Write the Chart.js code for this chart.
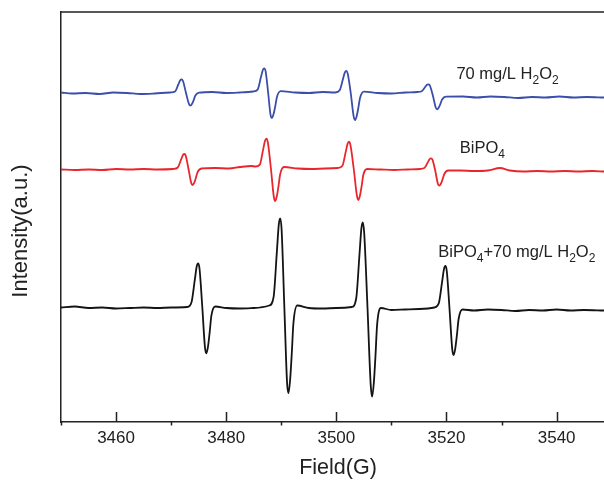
<!DOCTYPE html>
<html>
<head>
<meta charset="utf-8">
<script src="https://cdn.jsdelivr.net/npm/chart.js@4.4.1/dist/chart.umd.min.js"></script>
<style>
  body { margin: 0; background: #fff; }
  #wrap { width: 604px; height: 484px; }
</style>
</head>
<body>
<div id="wrap"><canvas id="eprChart" width="604" height="484"></canvas></div>
<script>
// Trace names (digit after a capital letter is drawn as subscript)
const traceNames = ['70 mg/L H2O2', 'BiPO4', 'BiPO4+70 mg/L H2O2'];
const xTitle = 'Field(G)';
const yTitle = 'Intensity(a.u.)';

// 70 mg/L H2O2 (blue)
const blueField = [3450, 3452, 3454.5, 3457, 3459.5, 3462, 3464.5, 3467, 3469.9,
  3470.7, 3471.3, 3471.65, 3471.9, 3472.15, 3472.7, 3473.25, 3473.5, 3473.8, 3474.1, 3474.4, 3475.1,
  3477.5, 3480, 3482.5, 3484.9,
  3485.7, 3486.3, 3486.65, 3486.9, 3487.15, 3487.6, 3488.05, 3488.3, 3488.6, 3488.9, 3489.2, 3489.9,
  3492.5, 3495, 3497.5, 3499.8,
  3500.6, 3501.2, 3501.55, 3501.8, 3502.05, 3502.6, 3503.15, 3503.4, 3503.7, 3504.0, 3504.3, 3505.0,
  3507.5, 3510, 3512.5, 3514.7,
  3515.5, 3516.1, 3516.45, 3516.7, 3516.95, 3517.5, 3518.05, 3518.3, 3518.6, 3518.9, 3519.2, 3519.9,
  3523, 3525.5, 3528, 3530.5, 3533, 3535.5, 3538, 3540.5, 3543, 3545.5, 3548.6];
const blueIntensity = [329.5, 328.5, 329, 328, 329.5, 329, 328, 328.5, 329.5,
  330.4, 337.5, 341.7, 342.7, 341, 329, 317.8, 316.3, 318.2, 322, 326.5, 329.3,
  330, 329, 329.5, 330.5,
  332.4, 344.7, 352, 353.7, 350.9, 330, 307.1, 304, 307.9, 315.7, 324.8, 330.8,
  329.5, 329, 330, 329.5,
  331.7, 343, 349.7, 351.2, 348.6, 329.5, 305.3, 302, 306.1, 314.4, 324, 330.3,
  329, 328.5, 329.5, 330,
  330.8, 334.8, 337.2, 337.7, 336.8, 327, 314.5, 312.7, 314.5, 318.2, 322.5, 325.4,
  325.5, 324.5, 325.5, 325, 324, 325, 324.5, 325.5, 324.5, 325, 324.5];

// BiPO4 (red)
const redField = [3450, 3452.5, 3455, 3457.5, 3460, 3462.5, 3465, 3467.5, 3470.4,
  3471.2, 3471.8, 3472.15, 3472.4, 3472.65, 3473.15, 3473.65, 3473.9, 3474.2, 3474.5, 3474.8, 3475.5,
  3478, 3480.5, 3482.5, 3484.6,
  3485.3, 3486.1, 3486.7, 3487.05, 3487.3, 3487.55, 3488.1, 3488.65, 3488.9, 3489.2, 3489.5, 3489.8, 3490.5,
  3493, 3495.5, 3498, 3500.3,
  3501.1, 3501.7, 3502.05, 3502.3, 3502.55, 3503.15, 3503.75, 3504.0, 3504.3, 3504.6, 3504.9, 3505.6,
  3508, 3510.5, 3513, 3515.2,
  3516.0, 3516.6, 3516.95, 3517.2, 3517.45, 3517.95, 3518.45, 3518.7, 3519.0, 3519.3, 3519.6, 3520.3,
  3522.5, 3525, 3527.5, 3529.7, 3531.5, 3534, 3536.5, 3539, 3541.5, 3544, 3546.5, 3548.6];
const redIntensity = [252.5, 252, 252.5, 252, 253, 252.5, 253, 252.5, 253,
  254.5, 262.3, 267, 268, 266.2, 253, 238.9, 237, 239.4, 244.2, 249.8, 253.5,
  254, 253.5, 255, 256,
  255.5, 257.4, 272.4, 281.3, 283.3, 279.8, 254.5, 225, 221, 226, 236.1, 247.8, 255,
  253.5, 253, 253.5, 254,
  256.2, 270.1, 278.4, 280.3, 277.1, 253.5, 225.8, 222, 226.7, 236.2, 247.2, 253,
  252.5, 252, 252.5, 253,
  254.1, 259.6, 263, 263.7, 262.4, 251.5, 238, 236.3, 238.5, 242.9, 248, 251.5,
  251.5, 251, 251.5, 254, 251.5, 250.5, 251, 250.5, 251, 250.5, 251, 250.5];

// BiPO4 + 70 mg/L H2O2 (black)
const blackField = [3450, 3452.5, 3455, 3457.5, 3460, 3462.5, 3465, 3467.5, 3470, 3472.9,
  3473.7, 3474.3, 3474.65, 3474.9, 3475.15, 3475.65, 3476.15, 3476.4, 3476.7, 3477.0, 3477.3, 3478.0,
  3480, 3482.5, 3485, 3487.8,
  3488.6, 3489.2, 3489.55, 3489.8, 3490.05, 3490.55, 3491.05, 3491.3, 3491.6, 3491.9, 3492.2, 3492.9,
  3495, 3497.5, 3500, 3502.8,
  3503.6, 3504.2, 3504.55, 3504.8, 3505.05, 3505.65, 3506.25, 3506.5, 3506.8, 3507.1, 3507.4, 3508.1,
  3510, 3512.5, 3515, 3517.8,
  3518.6, 3519.2, 3519.55, 3519.8, 3520.05, 3520.55, 3521.05, 3521.3, 3521.6, 3521.9, 3522.2, 3522.9,
  3525, 3527.5, 3530, 3532.5, 3535, 3537.5, 3540, 3542.5, 3545, 3548.6];
const blackIntensity = [114.5, 115.5, 114, 114.5, 113.5, 114, 114.5, 114, 114.5, 115,
  119.8, 142.3, 155.7, 158.7, 153.5, 115.5, 74.3, 68.7, 75.7, 89.8, 106.1, 115.5,
  114, 113.5, 114, 116.5,
  124.8, 170.4, 197.6, 203.7, 193.2, 116, 39.2, 28.7, 41.8, 68, 98.5, 116.5,
  114, 113.5, 114, 115,
  123.5, 167.5, 193.8, 199.7, 189.5, 115, 36.1, 25.3, 38.8, 65.7, 97.1, 114,
  112, 112.5, 113, 114.5,
  118.7, 140.2, 153.1, 156, 151, 113, 72.4, 67, 73.8, 87.3, 103, 112.5,
  111.5, 112.5, 112, 111, 112, 111.5, 112.5, 111.5, 112, 111.5];

function toPoints(xs, ys) {
  return xs.map((v, i) => ({ x: v, y: ys[i] }));
}

const FONT = 'Arial, "Liberation Sans", sans-serif';
Chart.defaults.font.family = FONT;
Chart.defaults.color = '#222';

// top frame line + inward major / outward minor ticks
const frameTicks = {
  id: 'frameTicks',
  afterDraw(chart) {
    const { ctx, chartArea, scales } = chart;
    const xs = scales.x;
    ctx.save();
    ctx.strokeStyle = '#222';
    ctx.lineWidth = 1.5;
    ctx.beginPath();
    ctx.moveTo(chartArea.left, chartArea.top);
    ctx.lineTo(chartArea.right, chartArea.top);
    xs.ticks.forEach(t => {
      const px = Math.round(xs.getPixelForValue(t.value)) + 0.5;
      if (t.value % 20 === 0) {
        ctx.moveTo(px, chartArea.bottom);
        ctx.lineTo(px, chartArea.bottom - 10);
      } else {
        ctx.moveTo(px, chartArea.bottom);
        ctx.lineTo(px, chartArea.bottom + 3.5);
      }
    });
    ctx.stroke();
    ctx.restore();
  }
};

// axis titles, placed like the original figure (not centred on the axes)
const axisTitles = {
  id: 'axisTitles',
  afterDraw(chart, args, opts) {
    const { ctx } = chart;
    ctx.save();
    ctx.fillStyle = '#222';
    ctx.textAlign = 'center';
    ctx.textBaseline = 'middle';
    ctx.font = opts.xSize + 'px ' + FONT;
    ctx.fillText(xTitle, opts.xAt[0], opts.xAt[1]);
    ctx.translate(opts.yAt[0], opts.yAt[1]);
    ctx.rotate(-Math.PI / 2);
    ctx.font = opts.ySize + 'px ' + FONT;
    ctx.fillText(yTitle, 0, 0);
    ctx.restore();
  }
};

// trace labels with chemical subscripts
const traceLabels = {
  id: 'traceLabels',
  afterDatasetsDraw(chart, args, opts) {
    const { ctx, scales: { x, y } } = chart;
    ctx.save();
    ctx.fillStyle = '#222';
    ctx.textBaseline = 'alphabetic';
    opts.items.forEach(item => {
      let px = x.getPixelForValue(item.field);
      const py = y.getPixelForValue(item.level);
      const runs = [];
      let prev = '';
      for (const ch of item.text) {
        const sub = /\d/.test(ch) && /[A-Z]/.test(prev);
        const last = runs[runs.length - 1];
        if (last && last.sub === sub) last.s += ch;
        else runs.push({ s: ch, sub: sub });
        prev = ch;
      }
      runs.forEach(r => {
        ctx.font = (r.sub ? opts.subSize : opts.size) + 'px ' + FONT;
        ctx.fillText(r.s, px, r.sub ? py + opts.subDrop : py);
        px += ctx.measureText(r.s).width;
      });
    });
    ctx.restore();
  }
};

new Chart(document.getElementById('eprChart'), {
  type: 'line',
  data: {
    datasets: [
      { label: traceNames[0], data: toPoints(blueField, blueIntensity), borderColor: 'rgb(58, 78, 170)' },
      { label: traceNames[1], data: toPoints(redField, redIntensity), borderColor: 'rgb(232, 38, 44)' },
      { label: traceNames[2], data: toPoints(blackField, blackIntensity), borderColor: 'rgb(20, 20, 20)' }
    ]
  },
  options: {
    responsive: false,
    animation: false,
    layout: { padding: { left: 61, top: 12, right: 0, bottom: 0 } },
    elements: {
      point: { radius: 0 },
      line: { borderWidth: 1.8, cubicInterpolationMode: 'monotone', fill: false }
    },
    plugins: {
      legend: { display: false },
      tooltip: { enabled: false },
      axisTitles: { xSize: 21.5, xAt: [338, 468.5], ySize: 22, yAt: [21, 231] },
      traceLabels: {
        size: 16.5, subSize: 12, subDrop: 5,
        items: [
          { text: traceNames[0], field: 3521.8, level: 343 },
          { text: traceNames[1], field: 3522.4, level: 268.7 },
          { text: traceNames[2], field: 3518.5, level: 165.3 }
        ]
      }
    },
    scales: {
      x: {
        type: 'linear',
        min: 3450,
        max: 3548.6,
        afterFit: scale => { scale.height = 62; },
        ticks: {
          stepSize: 10,
          includeBounds: false,
          autoSkip: false,
          maxRotation: 0,
          padding: 6.5,
          color: '#222',
          font: { size: 17 },
          callback: v => (v % 20 === 0 ? String(v) : '')
        },
        grid: { display: false, drawTicks: false },
        border: { display: true, color: '#222', width: 1.5 }
      },
      y: {
        type: 'linear',
        min: 0,
        max: 410,
        afterFit: scale => { scale.width = 0; },
        ticks: { display: false },
        grid: { display: false, drawTicks: false },
        border: { display: true, color: '#222', width: 1.5 }
      }
    }
  },
  plugins: [frameTicks, axisTitles, traceLabels]
});
</script>
</body>
</html>
